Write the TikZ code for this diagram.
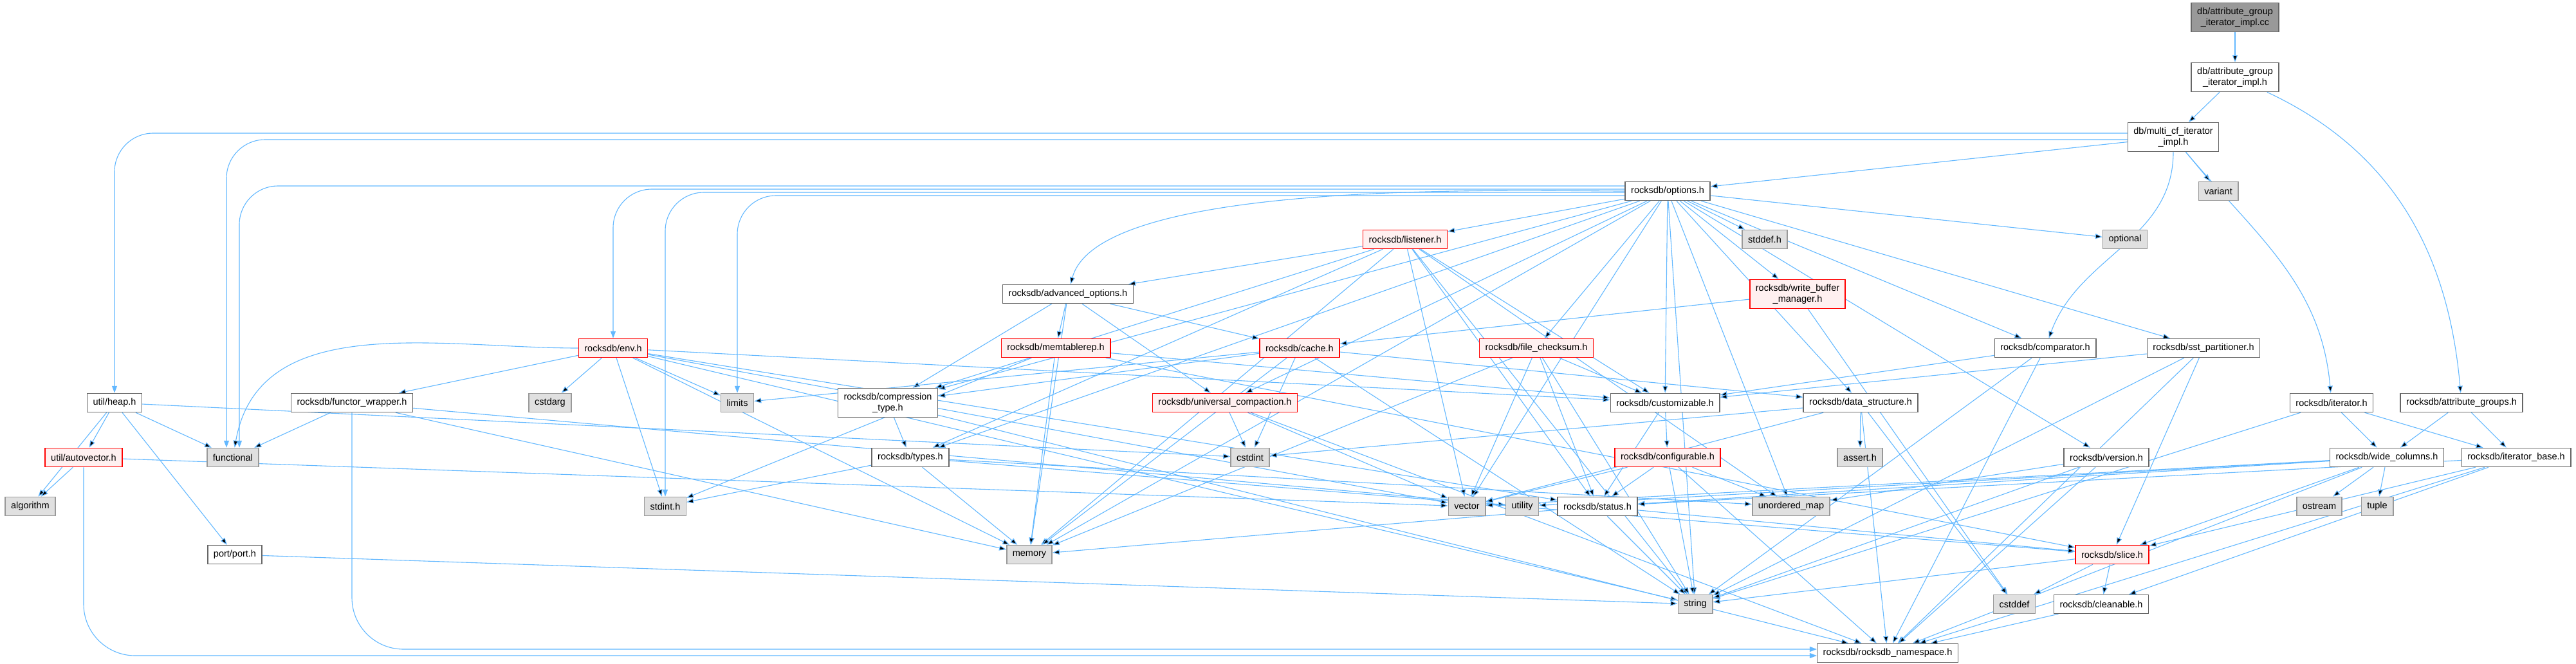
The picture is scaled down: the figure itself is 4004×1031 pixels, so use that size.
\documentclass[tikz,border=0pt]{standalone}
\usepackage{fontspec}
\setmainfont{Liberation Sans}
\usetikzlibrary{arrows.meta,backgrounds}
\definecolor{edgeblue}{HTML}{63B8FF}
\definecolor{sysgray}{HTML}{E0E0E0}
\definecolor{redfill}{HTML}{FFF0F0}

\begin{document}
\begin{tikzpicture}[x=1pt, y=-1pt, >={Triangle[length=11pt,width=8pt]},
    box/.style={draw=black!60, fill=white, line width=1.5pt, font=\fontsize{14.5}{17}\selectfont, inner xsep=9pt, inner ysep=3pt, minimum height=29pt, align=center},
    two/.style={minimum height=45pt},
    partial/.style={box, draw=red, fill=redfill},
    sys/.style={box, draw=black!40, fill=sysgray},
    src/.style={box, draw=black!60, fill=black!40},
    dep/.style={->, draw=edgeblue, line width=1.1pt}]
    \useasboundingbox (0,0) rectangle (4004,1031);
    \node[src,two] (root) at (3474,27) {db/attribute\_group\\\_iterator\_impl.cc};
    \node[box,two] (agih) at (3474,120) {db/attribute\_group\\\_iterator\_impl.h};
    \node[box,two] (mcf) at (3378,213) {db/multi\_cf\_iterator\\\_impl.h};
    \node[box] (opt) at (2592,297) {rocksdb/options.h};   \node[sys] (variant) at (3448,297) {variant};
    \node[partial] (listener) at (2184,372) {rocksdb/listener.h};
    \node[sys] (stddef) at (2743,372) {stddef.h};   \node[sys] (optional) at (3303,372) {optional};
    \node[box] (adv) at (1660,457) {rocksdb/advanced\_options.h};
    \node[partial,two] (wbm) at (2794,457) {rocksdb/write\_buffer\\\_manager.h};
    \node[partial] (env) at (953,541) {rocksdb/env.h};   \node[partial] (memrep) at (1641,541) {rocksdb/memtablerep.h};
    \node[partial] (cache) at (2020,541) {rocksdb/cache.h};   \node[partial] (fchk) at (2388,541) {rocksdb/file\_checksum.h};
    \node[box] (comp) at (3179,541) {rocksdb/comparator.h};   \node[box] (sstp) at (3425,541) {rocksdb/sst\_partitioner.h};
    \node[box] (heap) at (178,626) {util/heap.h};   \node[box] (functor) at (547,626) {rocksdb/functor\_wrapper.h};
    \node[sys] (cstdarg) at (855,626) {cstdarg};   \node[sys] (limits) at (1146,626) {limits};
    \node[box,two] (ctype) at (1380,626) {rocksdb/compression\\\_type.h};
    \node[partial] (univ) at (1904,626) {rocksdb/universal\_compaction.h};
    \node[box] (custom) at (2588,626) {rocksdb/customizable.h};   \node[box] (dstruct) at (2892,626) {rocksdb/data\_structure.h};
    \node[box] (iter) at (3624,626) {rocksdb/iterator.h};   \node[box] (agroups) at (3826,626) {rocksdb/attribute\_groups.h};
    \node[partial] (autovec) at (130,711) {util/autovector.h};   \node[sys] (functional) at (362,711) {functional};
    \node[box] (types) at (1415,711) {rocksdb/types.h};   \node[sys] (cstdint) at (1943,711) {cstdint};
    \node[partial] (config) at (2592,711) {rocksdb/configurable.h};   \node[sys] (asserth) at (2891,711) {assert.h};
    \node[box] (version) at (3274,711) {rocksdb/version.h};   \node[box] (widecol) at (3710,711) {rocksdb/wide\_columns.h};
    \node[box] (iterbase) at (3911,711) {rocksdb/iterator\_base.h};
    \node[sys] (algorithm) at (47,787) {algorithm};   \node[sys] (stdinth) at (1034,787) {stdint.h};
    \node[sys] (vector) at (2280,787) {vector};   \node[sys] (utility) at (2366,787) {utility};
    \node[box] (status) at (2483,787) {rocksdb/status.h};   \node[sys] (umap) at (2784,787) {unordered\_map};
    \node[sys] (ostream) at (3605,787) {ostream};   \node[sys] (tuple) at (3695,787) {tuple};
    \node[box] (port) at (365,862) {port/port.h};   \node[sys] (memory) at (1600,862) {memory};
    \node[partial] (slice) at (3283,862) {rocksdb/slice.h};
    \node[sys] (string) at (2635,939) {string};   \node[sys] (cstddef) at (3131,939) {cstddef};
    \node[box] (cleanable) at (3266,939) {rocksdb/cleanable.h};
    \node[box] (nsp) at (2934,1015) {rocksdb/rocksdb\_namespace.h};
    \begin{scope}[on background layer]
    \draw[dep] (root) edge (agih);
    \draw[dep] (agih) edge (mcf) edge[out=-25,in=95] (agroups);
    \draw[dep] (mcf) edge (opt) edge (variant) edge[out=-90,in=70] (comp) edge[out=-50,in=95] (iter);
    \draw[dep,rounded corners=60pt] ([yshift=6pt]mcf.west) -| (heap.north);
    \draw[dep,rounded corners=60pt] ([yshift=-4pt]mcf.west) -| ([xshift=-10pt]functional.north);
    \draw[dep,rounded corners=60pt] ([yshift=8pt]opt.west) -| ([xshift=10pt]functional.north);
    \draw[dep,rounded corners=60pt] ([yshift=3pt]opt.west) -| (env.north);
    \draw[dep,rounded corners=60pt] ([yshift=-2pt]opt.west) -| (stdinth.north);
    \draw[dep,rounded corners=60pt] ([yshift=-7pt]opt.west) -| (limits.north);
    \draw[dep] (opt) edge (stddef) edge (optional) edge (listener) edge[out=180,in=75,looseness=0.5] (adv) edge (wbm) edge (fchk)
        edge (comp) edge (sstp) edge (univ) edge (custom) edge (dstruct) edge (version) edge (types) edge (ctype)
        edge (memory) edge (string) edge (umap) edge (vector);
    \draw[dep] (listener) edge (adv) edge (ctype) edge (custom) edge (status) edge (types) edge (memory) edge (string) edge (umap) edge (vector);
    \draw[dep] (adv) edge (memrep) edge (cache) edge (univ) edge (ctype) edge (memory);
    \draw[dep] (wbm) edge (cache) edge (cstddef);
    \draw[dep] (env) edge (cstdarg) edge[out=180,in=80] (functional) edge (limits) edge (stdinth) edge (functor) edge (custom)
        edge (status) edge (memory) edge (string) edge (vector);
    \draw[dep] (functor) edge (functional) edge (memory) edge (utility);
    \draw[dep,rounded corners=80pt] (functor.south) |- ([yshift=6pt]nsp.west);
    \draw[dep] (heap) edge (algorithm) edge (autovec) edge (functional) edge (port) edge (cstdint);
    \draw[dep] (autovec) edge (algorithm) edge (vector);
    \draw[dep,rounded corners=80pt] (autovec.south) |- ([yshift=-4pt]nsp.west);
    \draw[dep] (port) edge (string);
    \draw[dep] (memrep) edge (memory) edge (custom) edge (slice) edge (stdinth);
    \draw[dep] (cache) edge (ctype) edge (limits) edge (dstruct) edge (cstdint) edge (memory) edge (string);
    \draw[dep] (univ) edge (cstdint) edge (vector) edge (nsp);
    \draw[dep] (fchk) edge (custom) edge (status) edge (memory) edge (vector) edge (string);
    \draw[dep] (comp) edge (custom) edge (string) edge (nsp);
    \draw[dep] (sstp) edge (custom) edge (slice) edge (nsp) edge (string);
    \draw[dep] (ctype) edge (types) edge (nsp);
    \draw[dep] (custom) edge (config) edge (status);
    \draw[dep] (dstruct) edge (asserth) edge (cstddef) edge (cstdint) edge (vector) edge (nsp);
    \draw[dep] (iter) edge (widecol) edge (iterbase) edge (string);
    \draw[dep] (agroups) edge (widecol) edge (iterbase);
    \draw[dep] (types) edge (stdinth) edge (memory) edge (slice) edge (umap);
    \draw[dep] (config) edge (vector) edge (status) edge (umap) edge (string) edge (nsp);
    \draw[dep] (version) edge (string) edge (umap) edge (nsp);
    \draw[dep] (widecol) edge (ostream) edge (tuple) edge (slice) edge (nsp) edge (vector) edge (utility) edge (status);
    \draw[dep] (iterbase) edge (cleanable) edge (slice) edge (status) edge (nsp);
    \draw[dep] (status) edge (memory) edge (string) edge (slice);
    \draw[dep] (slice) edge (cstddef) edge (cleanable) edge (string);
    \draw[dep] (cleanable) edge (nsp);
    \end{scope}
\end{tikzpicture}
\end{document}
